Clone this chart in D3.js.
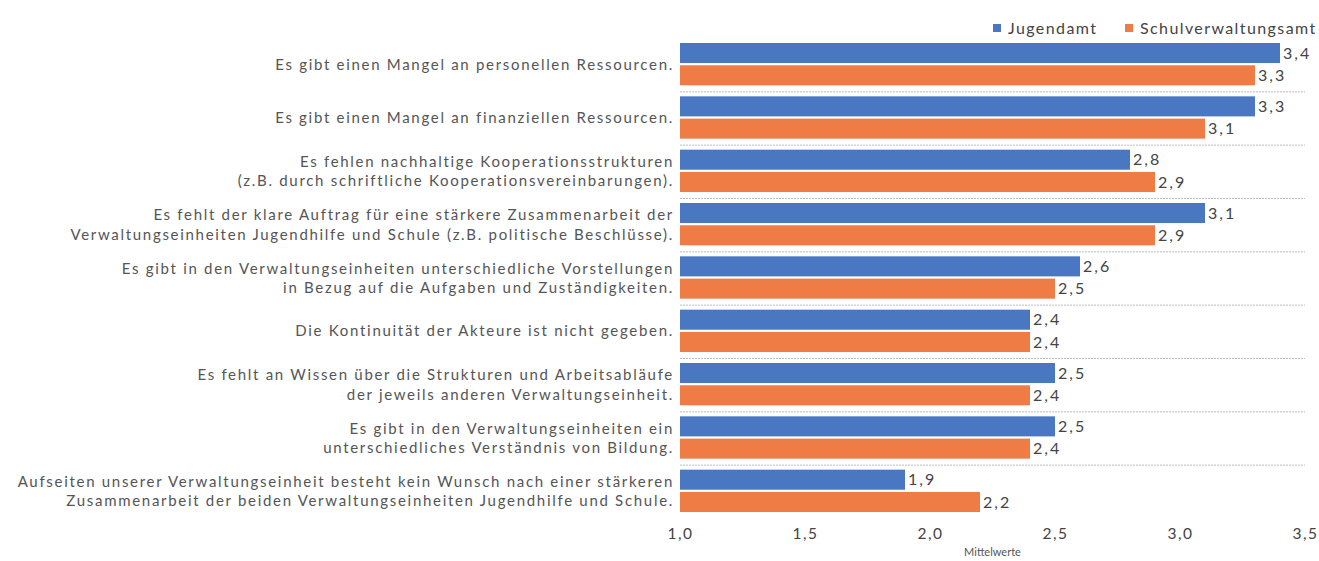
<!DOCTYPE html>
<html>
<head>
<meta charset="utf-8">
<script src="https://cdn.jsdelivr.net/npm/d3@7"></script>
<style>
  body { margin: 0; background: #fff; }
  text { font-family: Lato, "Open Sans", sans-serif; }
</style>
</head>
<body>
<div id="chart"></div>
<script>
// data
var categories = [
  ["Es gibt einen Mangel an personellen Ressourcen."],
  ["Es gibt einen Mangel an finanziellen Ressourcen."],
  ["Es fehlen nachhaltige Kooperationsstrukturen", "(z.B. durch schriftliche Kooperationsvereinbarungen)."],
  ["Es fehlt der klare Auftrag für eine stärkere Zusammenarbeit der", "Verwaltungseinheiten Jugendhilfe und Schule (z.B. politische Beschlüsse)."],
  ["Es gibt in den Verwaltungseinheiten unterschiedliche Vorstellungen", "in Bezug auf die Aufgaben und Zuständigkeiten."],
  ["Die Kontinuität der Akteure ist nicht gegeben."],
  ["Es fehlt an Wissen über die Strukturen und Arbeitsabläufe", "der jeweils anderen Verwaltungseinheit."],
  ["Es gibt in den Verwaltungseinheiten ein", "unterschiedliches Verständnis von Bildung."],
  ["Aufseiten unserer Verwaltungseinheit besteht kein Wunsch nach einer stärkeren", "Zusammenarbeit der beiden Verwaltungseinheiten Jugendhilfe und Schule."]
];
var jugendamt = [3.4, 3.3, 2.8, 3.1, 2.6, 2.4, 2.5, 2.5, 1.9];
var schulverwaltungsamt = [3.3, 3.1, 2.9, 2.9, 2.5, 2.4, 2.4, 2.4, 2.2];
var seriesNames = ["Jugendamt", "Schulverwaltungsamt"];
var colors = ["#4a77c1", "#ef7c45"];
var xTicks = [1.0, 1.5, 2.0, 2.5, 3.0, 3.5];

var width = 1319, height = 561;
var plotLeft = 680, plotRight = 1305, plotTop = 38, plotBottom = 518;

var svg = d3.select("#chart").append("svg")
  .attr("width", width)
  .attr("height", height);

var x = d3.scaleLinear().domain([1, 3.5]).range([plotLeft, plotRight]);
var y = d3.scaleBand().domain(d3.range(categories.length)).range([plotTop, plotBottom]);
var ySub = d3.scaleBand().domain([0, 1]).range([5, y.bandwidth() - 6]).paddingInner(0.1);

var fmt = function(v) { return d3.format(".1f")(v).replace(".", ","); };

// separator lines
svg.append("g").selectAll("line")
  .data(d3.range(1, categories.length))
  .enter().append("line")
  .attr("x1", plotLeft).attr("x2", plotRight)
  .attr("y1", function(i) { return y(i) + 0.5; })
  .attr("y2", function(i) { return y(i) + 0.5; })
  .attr("stroke", "#bbb")
  .attr("stroke-dasharray", "2,1")
  .attr("stroke-width", 1);

var seriesData = [jugendamt, schulverwaltungsamt];

seriesData.forEach(function(values, s) {
  var g = svg.append("g");
  g.selectAll("rect")
    .data(values)
    .enter().append("rect")
    .attr("x", x(1))
    .attr("y", function(d, i) { return y(i) + ySub(s); })
    .attr("width", function(d) { return x(d) - x(1); })
    .attr("height", ySub.bandwidth())
    .attr("fill", colors[s]);
  g.selectAll("text")
    .data(values)
    .enter().append("text")
    .attr("x", function(d) { return x(d) + 3; })
    .attr("y", function(d, i) { return y(i) + ySub(s) + ySub.bandwidth() / 2; })
    .attr("dy", "0.36em")
    .attr("font-size", 16)
    .attr("letter-spacing", 2)
    .attr("fill", "#444")
    .text(fmt);
});

// category labels
var labels = svg.append("g").selectAll("text")
  .data(categories)
  .enter().append("text")
  .attr("text-anchor", "end")
  .attr("font-size", 15)
  .attr("letter-spacing", 1.7)
  .attr("fill", "#555")
  .attr("y", function(d, i) {
    var c = y(i) + y.bandwidth() / 2;
    return d.length === 1 ? c - 10 : c - 19.5;
  });
labels.selectAll("tspan")
  .data(function(d) { return d; })
  .enter().append("tspan")
  .attr("x", 674)
  .attr("dy", function(d, j) { return j === 0 ? "1em" : "1.3em"; })
  .text(function(d) { return d; });

// x axis
var xAxis = d3.axisBottom(x).tickValues(xTicks).tickFormat(fmt).tickSize(0).tickPadding(0);
var ax = svg.append("g")
  .attr("transform", "translate(0," + 528 + ")")
  .call(xAxis);
ax.select(".domain").remove();
ax.selectAll("text")
  .attr("font-size", 15.5)
  .attr("letter-spacing", 1.5)
  .attr("fill", "#444")
  .attr("font-family", "Lato, sans-serif");

svg.append("text")
  .attr("x", x(2.25))
  .attr("y", 556)
  .attr("text-anchor", "middle")
  .attr("font-size", 11)
  .attr("fill", "#555")
  .text("Mittelwerte");

// legend
var legendX = [993, 1125];
var legend = svg.append("g");
seriesNames.forEach(function(name, s) {
  legend.append("rect")
    .attr("x", legendX[s]).attr("y", 24)
    .attr("width", 8).attr("height", 8)
    .attr("fill", colors[s]);
  legend.append("text")
    .attr("x", legendX[s] + 15).attr("y", 28)
    .attr("dy", "0.36em")
    .attr("font-size", 16)
    .attr("letter-spacing", 1.4)
    .attr("fill", "#444")
    .text(name);
});
</script>
</body>
</html>
